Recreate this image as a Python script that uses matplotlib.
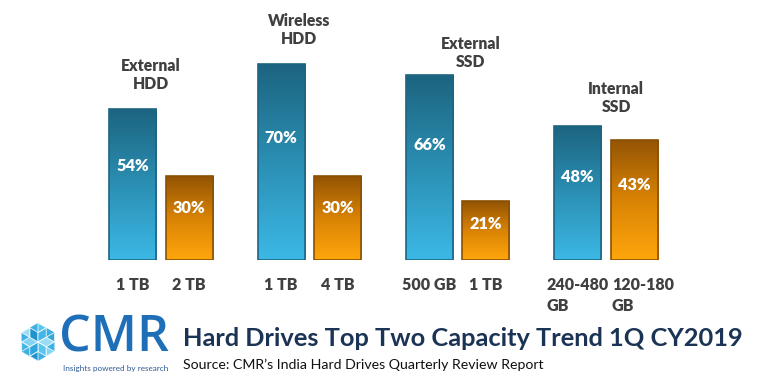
import numpy as np
import matplotlib
matplotlib.use("Agg")
import matplotlib.pyplot as plt
from matplotlib.colors import LinearSegmentedColormap
from matplotlib.patches import Polygon

plt.rcParams["font.family"] = ["Lato", "DejaVu Sans"]

# data
groups = ["External\nHDD", "Wireless\nHDD", "External\nSSD", "Internal\nSSD"]
first_labels = ["1 TB", "1 TB", "500 GB", "240-480\nGB"]
second_labels = ["2 TB", "4 TB", "1 TB", "120-180\nGB"]
first_share = [54, 70, 66, 48]
second_share = [30, 30, 21, 43]

title = "Hard Drives Top Two Capacity Trend 1Q CY2019"
source = "Source: CMR\u2019s India Hard Drives Quarterly Review Report"

# layout
W, H = 775, 388
group_label_y = [66, 82, 74, 58]          # percent units
group_label_dx = [-0.07, -0.07, 0.09, 0.07]
second_label_dx = [0, 0, 0, 0.06]
width = 0.317
offset = 0.19
label_weight = "heavy"

blue_cmap = LinearSegmentedColormap.from_list("b", ["#3cb8e6", "#2b8fb3", "#1c6480"])
orange_cmap = LinearSegmentedColormap.from_list("o", ["#ffa60c", "#d98305", "#935404"])

fig = plt.figure(figsize=(W / 100, H / 100), dpi=100)
fig.patch.set_facecolor("white")

# bar axes: baseline at 260px, 2.8px per percent
base_px, px_per = 260, 2.8
ax_h = 90 * px_per
ax = fig.add_axes([0, (H - base_px) / H, 1, ax_h / H])
scale = 148.3
ax.axis("off")

x = np.arange(len(groups))
grad = np.linspace(0, 1, 256).reshape(-1, 1)


def gradient_bars(xs, vals, cmap, edge):
    bars = ax.bar(xs, vals, width=width, color="none", edgecolor=edge, linewidth=1.2, zorder=3)
    for b in bars:
        x0, y0 = b.get_x(), b.get_y()
        im = ax.imshow(grad, cmap=cmap, aspect="auto", origin="lower",
                       extent=(x0, x0 + b.get_width(), y0, y0 + b.get_height()), zorder=2)
        im.set_clip_path(b)
    return bars


gradient_bars(x - offset, first_share, blue_cmap, "#1d6582")
gradient_bars(x + offset, second_share, orange_cmap, "#8a5004")
ax.set_xlim(-161 / scale, (W - 161) / scale)
ax.set_ylim(0, 90)

for xi, v in zip(x - offset, first_share):
    ax.text(xi, v * 0.62, f"{v}%", ha="center", va="center", color="white",
            fontsize=11.8, fontweight=label_weight, zorder=5)
for xi, v in zip(x + offset, second_share):
    ax.text(xi, v * 0.62, f"{v}%", ha="center", va="center", color="white",
            fontsize=11.8, fontweight=label_weight, zorder=5)

for i, g in enumerate(groups):
    ax.text(x[i] + group_label_dx[i], group_label_y[i], g, ha="center", va="center",
            color="#404040", fontsize=11.3, fontweight=label_weight, linespacing=1.15)

for xi, lab in zip(x - offset, first_labels):
    ax.text(xi, -6, lab, ha="center", va="top", color="#404040", fontsize=11.5,
            fontweight=label_weight, multialignment="left", linespacing=1.4)
for xi, dx, lab in zip(x + offset, second_label_dx, second_labels):
    ax.text(xi + dx, -6, lab, ha="center", va="top", color="#404040", fontsize=11.5,
            fontweight=label_weight, multialignment="left", linespacing=1.4)

# overlay in pixel coordinates for title and logo
ov = fig.add_axes([0, 0, 1, 1], zorder=10)
ov.set_xlim(0, W)
ov.set_ylim(H, 0)
ov.axis("off")
ov.patch.set_alpha(0)

ov.text(183, 339, title, ha="left", va="center", color="#1b3354", fontsize=18.3,
        fontweight="bold")
ov.text(183, 365, source, ha="left", va="center", color="#111111", fontsize=10.2)

# logo: isometric cluster of cubes
cx, cy, r = 38, 342, 19
shades = ["#5bc8f0", "#2fa6dc", "#8adaf6", "#1f8fcc", "#44b7e8", "#a5e3f8"]
ang = np.deg2rad(np.arange(6) * 60 + 30)
hexpts = np.c_[cx + r * np.cos(ang), cy + r * np.sin(ang)]
ov.add_patch(Polygon(hexpts, closed=True, fc="#3fb0e4", ec="none"))
for k in range(6):
    p1 = hexpts[k]
    p2 = hexpts[(k + 1) % 6]
    m1 = ((cx + p1[0]) / 2, (cy + p1[1]) / 2)
    m2 = ((cx + p2[0]) / 2, (cy + p2[1]) / 2)
    mid = ((p1[0] + p2[0]) / 2, (p1[1] + p2[1]) / 2)
    ov.add_patch(Polygon([(cx, cy), m1, mid, m2], closed=True, fc=shades[k],
                         ec="white", lw=0.6, alpha=0.9))
    ov.add_patch(Polygon([m1, p1, mid], closed=True, fc=shades[(k + 2) % 6],
                         ec="white", lw=0.6, alpha=0.9))
ov.text(59, 339, "CMR", ha="left", va="center", color="#1f6fb8", fontsize=36,
        family=["Open Sans", "DejaVu Sans"], fontweight="semibold")
ov.text(63, 368, "Insights powered by research", ha="left", va="center",
        color="#2d5a96", fontsize=5.9)

fig.savefig("out.png", dpi=100, facecolor="white")
